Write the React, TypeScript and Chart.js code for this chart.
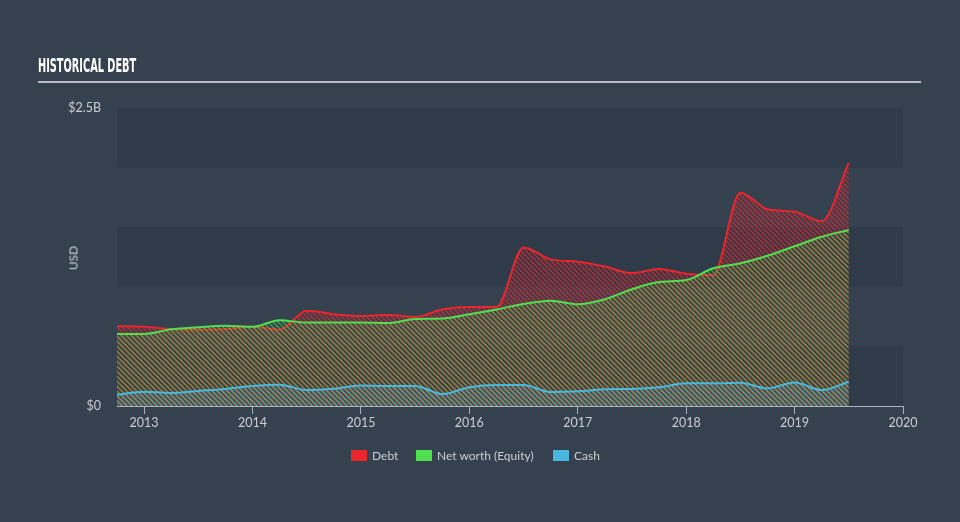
import React, { useEffect, useRef } from "react";
import { Chart, registerables } from "chart.js";

Chart.register(...registerables);

const quarters = [
  2012.75, 2013.0, 2013.25, 2013.5, 2013.75, 2014.0, 2014.25, 2014.5, 2014.75,
  2015.0, 2015.25, 2015.5, 2015.75, 2016.0, 2016.25, 2016.5, 2016.75, 2017.0,
  2017.25, 2017.5, 2017.75, 2018.0, 2018.25, 2018.5, 2018.75, 2019.0, 2019.25, 2019.5,
];
// values in billions USD
const debt = [
  0.67, 0.665, 0.645, 0.64, 0.645, 0.665, 0.64, 0.8, 0.77, 0.755, 0.763, 0.747, 0.81,
  0.83, 0.83, 1.33, 1.23, 1.21, 1.17, 1.115, 1.15, 1.11, 1.1, 1.79, 1.65, 1.63, 1.55, 2.04,
];
const equity = [
  0.604, 0.604, 0.643, 0.66, 0.674, 0.665, 0.72, 0.7, 0.7, 0.7, 0.696, 0.73, 0.735,
  0.77, 0.81, 0.856, 0.883, 0.853, 0.895, 0.98, 1.04, 1.057, 1.155, 1.197, 1.26, 1.34,
  1.42, 1.477,
];
const cash = [
  0.095, 0.12, 0.109, 0.126, 0.143, 0.168, 0.179, 0.134, 0.145, 0.173, 0.168, 0.168,
  0.1, 0.157, 0.176, 0.176, 0.117, 0.123, 0.14, 0.143, 0.157, 0.19, 0.19, 0.196, 0.148,
  0.198, 0.134, 0.204,
];
const yearTicks = [2013, 2014, 2015, 2016, 2017, 2018, 2019, 2020];
const yTicks = [0, 2.5];
const bands = [
  [0, 0.5],
  [1, 1.5],
  [2, 2.5],
];

const BG = "#36414f";
const BAND = "#303b49";
const RED = "#e8262b";
const GREEN = "#4fe04f";
const BLUE = "#4ab8de";
const TEXT = "#c9cdd3";
const FONT = "Lato, 'Open Sans', sans-serif";

function hatch(color: string, offset: number) {
  const c = document.createElement("canvas");
  const s = 5;
  c.width = s;
  c.height = s;
  const g = c.getContext("2d")!;
  g.strokeStyle = color;
  g.lineWidth = 1.5;
  g.beginPath();
  for (let k = -2; k <= 2; k++) {
    const o = k * s + offset;
    g.moveTo(o - 1, -1);
    g.lineTo(o + s + 1, s + 1);
  }
  g.stroke();
  return g.createPattern(c, "repeat")!;
}

const bandPlugin = {
  id: "bands",
  beforeDatasetsDraw(chart: any) {
    const { ctx, chartArea, scales } = chart;
    ctx.save();
    ctx.fillStyle = BAND;
    for (const [a, b] of bands) {
      const y1 = scales.y.getPixelForValue(b);
      const y2 = scales.y.getPixelForValue(a);
      ctx.fillRect(chartArea.left, y1, chartArea.right - chartArea.left, y2 - y1);
    }
    ctx.restore();
  },
};

function ChartView() {
  const ref = useRef<HTMLCanvasElement>(null);
  useEffect(() => {
    const mk = (arr: number[]) => arr.map((v, i) => ({ x: quarters[i], y: v }));
    const chart = new Chart(ref.current!, {
      type: "line",
      data: {
        datasets: [
          {
            label: "Cash",
            data: mk(cash),
            borderColor: BLUE,
            backgroundColor: hatch("rgba(74,184,222,0.5)", 2),
            fill: "origin",
            order: 0,
          },
          {
            label: "Net worth (Equity)",
            data: mk(equity),
            borderColor: GREEN,
            backgroundColor: hatch("rgba(79,224,79,0.55)", 1),
            fill: "origin",
            order: 1,
          },
          {
            label: "Debt",
            data: mk(debt),
            borderColor: RED,
            backgroundColor: hatch("rgba(232,38,43,0.75)", 0),
            fill: "origin",
            order: 2,
          },
        ],
      },
      options: {
        animation: false,
        responsive: false,
        maintainAspectRatio: false,
        layout: { padding: { left: 0, top: 108, right: 57, bottom: 86 } },
        elements: {
          point: { radius: 0 },
          line: { borderWidth: 2, cubicInterpolationMode: "monotone" },
        },
        plugins: { legend: { display: false }, tooltip: { enabled: false } },
        scales: {
          x: {
            type: "linear",
            min: 2012.75,
            max: 2020,
            afterBuildTicks: (s: any) => {
              s.ticks = yearTicks.map((v) => ({ value: v }));
            },
            afterFit: (s: any) => {
              s.height = 30;
            },
            grid: {
              drawOnChartArea: false,
              drawTicks: true,
              tickLength: 8,
              color: "#a9b3c0",
            },
            border: { display: true, color: "#a9b3c0", width: 1 },
            ticks: {
              color: TEXT,
              font: { family: FONT, size: 12.5 },
              padding: 1,
              maxRotation: 0,
              callback: (v: any) => String(v),
            },
          },
          y: {
            min: 0,
            max: 2.5,
            afterBuildTicks: (s: any) => {
              s.ticks = yTicks.map((v) => ({ value: v }));
            },
            afterFit: (s: any) => {
              s.width = 117;
            },
            grid: { display: false },
            border: { display: false },
            ticks: {
              color: TEXT,
              font: { family: FONT, size: 12.5 },
              padding: 8,
              callback: (v: any) => (v === 0 ? "$0" : "$" + v + "B"),
            },
          },
        },
      },
      plugins: [bandPlugin],
    });
    return () => chart.destroy();
  }, []);
  return <canvas ref={ref} width={960} height={522} style={{ position: "absolute", left: 0, top: 0 }} />;
}

const legendItems = [
  { label: "Debt", color: RED, left: 351 },
  { label: "Net worth (Equity)", color: GREEN, left: 416 },
  { label: "Cash", color: BLUE, left: 553 },
];

function Title() {
  const ref = useRef<HTMLDivElement>(null);
  useEffect(() => {
    const el = ref.current!;
    const w = el.scrollWidth;
    if (w > 0) el.style.transform = `scaleX(${98 / w})`;
  }, []);
  return (
    <div
      ref={ref}
      style={{
        position: "absolute",
        left: 38,
        top: 55,
        color: "#ffffff",
        fontFamily: "'Liberation Sans Narrow', 'DejaVu Sans Condensed', 'Roboto', sans-serif",
        fontWeight: 700,
        fontSize: 19.5,
        lineHeight: "22px",
        transformOrigin: "left",
        whiteSpace: "nowrap",
        display: "inline-block",
      }}
    >
      HISTORICAL DEBT
    </div>
  );
}

export default function App() {
  useEffect(() => {
    document.body.style.margin = "0";
  }, []);
  return (
    <div
      style={{
        position: "fixed",
        left: 0,
        top: 0,
        width: 960,
        height: 522,
        background: BG,
        overflow: "hidden",
        fontFamily: FONT,
      }}
    >
      <ChartView />
      <Title />
      <div
        style={{
          position: "absolute",
          left: 38,
          top: 81,
          width: 883,
          height: 2,
          background: "#b7bcc4",
        }}
      />
      <div
        style={{
          position: "absolute",
          left: 73,
          top: 258,
          color: TEXT,
          fontSize: 12,
          transform: "translate(-50%,-50%) rotate(-90deg)",
          transformOrigin: "center",
        }}
      >
        USD
      </div>
      {legendItems.map((it) => (
        <div
          key={it.label}
          style={{
            position: "absolute",
            left: it.left,
            top: 448,
            display: "flex",
            alignItems: "center",
            color: TEXT,
            fontSize: 12,
            whiteSpace: "nowrap",
          }}
        >
          <span
            style={{
              display: "inline-block",
              width: 16,
              height: 11,
              background: it.color,
              marginRight: 5,
            }}
          />
          {it.label}
        </div>
      ))}
    </div>
  );
}
